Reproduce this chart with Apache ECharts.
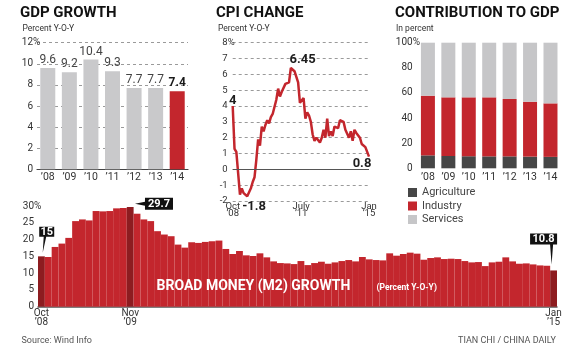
<!DOCTYPE html>
<html><head><meta charset="utf-8">
<script src="https://cdn.jsdelivr.net/npm/echarts@6/dist/echarts.min.js"></script>
<style>html,body{margin:0;padding:0;background:#fff}#c{width:580px;height:350px}</style>
</head><body><div id="c"></div>
<script>
// ---------- DATA ----------
const gdpYears = ["’08","’09","’10","’11","’12","’13","’14"];
const gdpGrowth = [9.6, 9.2, 10.4, 9.3, 7.7, 7.7, 7.4];

const months = [
 "2008-10","2008-11","2008-12",
 "2009-01","2009-02","2009-03","2009-04","2009-05","2009-06","2009-07","2009-08","2009-09","2009-10","2009-11","2009-12",
 "2010-01","2010-02","2010-03","2010-04","2010-05","2010-06","2010-07","2010-08","2010-09","2010-10","2010-11","2010-12",
 "2011-01","2011-02","2011-03","2011-04","2011-05","2011-06","2011-07","2011-08","2011-09","2011-10","2011-11","2011-12",
 "2012-01","2012-02","2012-03","2012-04","2012-05","2012-06","2012-07","2012-08","2012-09","2012-10","2012-11","2012-12",
 "2013-01","2013-02","2013-03","2013-04","2013-05","2013-06","2013-07","2013-08","2013-09","2013-10","2013-11","2013-12",
 "2014-01","2014-02","2014-03","2014-04","2014-05","2014-06","2014-07","2014-08","2014-09","2014-10","2014-11","2014-12",
 "2015-01"
];

const cpiChange = [
 4.0, 1.3, 1.1,
 1.0, -1.6, -1.2, -1.5, -1.4, -1.7, -1.8, -1.2, -0.8, -0.5, 0.6, 1.9,
 1.5, 2.7, 2.4, 2.8, 3.1, 2.9, 3.3, 3.5, 3.6, 4.4, 5.1, 4.6,
 4.9, 4.9, 5.4, 5.3, 5.5, 6.4, 6.45, 6.2, 6.1, 5.5, 4.2, 4.1,
 4.5, 3.2, 3.6, 3.4, 3.0, 2.2, 1.8, 2.0, 1.9, 1.7, 2.0, 2.5,
 2.0, 3.2, 2.1, 2.4, 2.1, 2.7, 2.7, 2.6, 3.1, 3.2, 3.0, 2.5,
 2.5, 2.0, 2.4, 1.8, 2.5, 2.3, 2.3, 2.0, 1.6, 1.6, 1.4, 1.5,
 0.8
];
const cpiTickMonths = ["2008-10","2011-07","2015-01"];
const cpiTickLabels = ["Oct\n’08","July\n’11","Jan\n’15"];
const cpiNoteMonths = ["2008-10","2009-07","2011-07","2015-01"];

const contribYears = ["’08","’09","’10","’11","’12","’13","’14"];
const agriculture = [10.3, 9.8, 9.6, 9.5, 9.5, 9.3, 9.1];
const industry    = [47.5, 46.7, 46.9, 47.0, 45.7, 43.7, 42.6];
const services    = [42.2, 43.5, 43.5, 43.5, 44.8, 47.0, 48.3];

const m2Growth = [
 15.0, 14.8, 17.8,
 18.8, 20.5, 25.5, 26.0, 25.7, 28.5, 28.4, 28.5, 29.3, 29.4, 29.7, 27.7,
 26.0, 25.5, 22.5, 21.5, 21.0, 18.5, 17.6, 19.2, 19.0, 19.3, 19.5, 19.7,
 17.2, 15.7, 16.6, 15.3, 15.1, 15.9, 14.7, 13.5, 13.0, 12.9, 12.7, 13.6,
 12.4, 13.0, 13.4, 12.8, 13.2, 13.6, 13.9, 13.5, 14.8, 14.1, 13.9, 13.8,
 15.9, 15.2, 15.7, 16.1, 15.8, 14.0, 14.5, 14.7, 14.2, 14.3, 14.2, 13.6,
 13.2, 13.3, 12.1, 13.2, 13.4, 14.7, 13.5, 12.8, 12.9, 12.6, 12.3, 12.2,
 10.8
];
const m2TickMonths = ["2008-10","2009-11","2015-01"];
const m2TickLabels = ["Oct\n’08","Nov\n’09","Jan\n’15"];
const m2Highlight = ["2008-10","2009-11","2015-01"];

// y-axis ranges / tick steps
const gdpAxis = {min:0, max:12, step:2};
const cpiAxis = {min:-2, max:8, step:1};
const contribAxis = {min:0, max:100, step:20};
const m2Axis = {min:0, max:30, step:5};

// ---------- STYLE ----------
const F = 'Roboto';
const RED = '#c3262d', DARKRED = '#8d1c20', GRAY = '#c9c9cb', AGRI = '#464646', SERV = '#c6c6c8', TXT = '#333';
const dash = {type:[3,3], color:'#9a9a9a', width:1};

function tickInterval(list){ return (i, v) => list.indexOf(v) >= 0; }
function tickFormatter(list, labels){ return v => { const k = list.indexOf(v); return k >= 0 ? labels[k] : ''; }; }

const chart = echarts.init(document.getElementById('c'), null, {renderer:'canvas', width:580, height:350});

const gdpData = gdpGrowth.map((v,i) => i === gdpGrowth.length-1
  ? {value:v, itemStyle:{color:RED}, label:{fontWeight:'bold', color:'#1a1a1a'}}
  : v);

const cpiNoteStyle = {
  "2008-10": {position:'top', distance:1, offset:[0,2]},
  "2009-07": {position:'bottom', distance:1, offset:[5,1]},
  "2011-07": {position:'top', distance:1, offset:[10,0]},
  "2015-01": {position:'bottom', distance:1, offset:[-7,0]}
};
const cpiData = cpiChange.map((v,i) => {
  const m = months[i];
  if (cpiNoteMonths.indexOf(m) >= 0) {
    const s = cpiNoteStyle[m];
    return {value:v, label:{show:true, position:s.position, distance:s.distance, offset:s.offset,
      formatter:String(v), fontSize:13, fontWeight:'bold', color:'#1e1e1e', fontFamily:F}};
  }
  return v;
});
const cpiAxisData = months.map(m => m === "2011-07" ? {value:m, textStyle:{padding:[0,0,0,17]}} : m);

const m2Data = m2Growth.map((v,i) => m2Highlight.indexOf(months[i]) >= 0
  ? {value:v, itemStyle:{color:DARKRED}} : v);

const calloutShapes = {
  "2008-10": {path:'path://M0,0 L15,0 L15,10 L7,10 L3.5,26 L4.5,10 L0,10 Z', size:[15,26], offset:[5.3,-16.6], lo:[0,-8]},
  "2009-11": {path:'path://M10,0 L38,0 L38,12 L10,12 L10,8 L0,6 L10,4 Z', size:[38,12], offset:[23.8,-3.2], lo:[5,0]},
  "2015-01": {path:'path://M0,0 L27,0 L27,11 L23,11 L21.5,31 L20,11 L0,11 Z', size:[27,31], offset:[-10,-21.5], lo:[0,-10]}
};
const m2Callouts = m2Highlight.map(m => {
  const s = calloutShapes[m];
  const v = m2Growth[months.indexOf(m)];
  return {coord:[m, v], symbol:s.path, symbolSize:s.size, symbolOffset:s.offset,
    itemStyle:{color:'#111'},
    label:{show:true, formatter:String(v), offset:s.lo, color:'#fff', fontWeight:'bold', fontSize:11, fontFamily:F}};
});

const titleStyle = {fontSize:15, fontWeight:'bold', fontFamily:F, color:'#111'};
const subStyle = {fontSize:8.5, fontWeight:'normal', fontFamily:F, color:'#333'};

const grids = [
  {left:37, top:42.7, width:151, height:126.6},
  {left:232.7, top:42.7, width:136.3, height:158.3},
  {left:417.7, top:42.7, width:143, height:125.6},
  {left:38, top:206, width:519, height:100.7}
];
const yAxes = [gdpAxis, cpiAxis, contribAxis, m2Axis];
const yMargins = [4, 5, 5, 4];
const yFont = [10, 9.5, 10, 10];

function yAxisOpt(i, extra){
  const a = yAxes[i];
  return Object.assign({gridIndex:i, type:'value', min:a.min, max:a.max, interval:a.step,
    axisLine:{show:false}, axisTick:{show:false},
    axisLabel:{margin:yMargins[i], fontSize:yFont[i], color:TXT, fontFamily:F}}, extra);
}

chart.setOption({
  animation:false,
  backgroundColor:'#fff',
  textStyle:{fontFamily:F},
  title:[
    {text:'GDP GROWTH', left:20, top:6, padding:0, textStyle:titleStyle},
    {text:'Percent Y-O-Y', left:22.5, top:24.5, padding:0, textStyle:subStyle},
    {text:'CPI CHANGE', left:216, top:6, padding:0, textStyle:titleStyle},
    {text:'Percent Y-O-Y', left:218, top:24.5, padding:0, textStyle:subStyle},
    {text:'CONTRIBUTION TO GDP', left:395, top:6, padding:0, textStyle:titleStyle},
    {text:'In percent', left:396, top:24.5, padding:0, textStyle:subStyle},
    {text:'BROAD MONEY (M2) GROWTH', left:156.5, top:279, padding:0, textStyle:{fontSize:14, fontWeight:'bold', fontFamily:F, color:'#fff'}},
    {text:'(Percent Y-O-Y)', left:376.5, top:283.5, padding:0, textStyle:{fontSize:8.5, fontWeight:'bold', fontFamily:F, color:'#fff'}},
    {text:'Source: Wind Info', left:21.5, top:336.5, padding:0, textStyle:{fontSize:9, fontWeight:'normal', fontFamily:F, color:'#555'}},
    {text:'TIAN CHI / CHINA DAILY', right:24, top:336.5, padding:0, textStyle:{fontSize:9, fontWeight:'normal', fontFamily:F, color:'#555'}}
  ],
  legend:{
    data:['Agriculture','Industry','Services'], orient:'vertical', left:408, top:187, padding:0,
    itemWidth:9, itemHeight:9, itemGap:2.5, icon:'rect', selectedMode:false,
    textStyle:{fontSize:11, color:'#444', fontFamily:F}
  },
  grid:grids,
  xAxis:[
    {gridIndex:0, type:'category', data:gdpYears, axisTick:{show:false},
      axisLine:{show:true, lineStyle:{color:'#444', width:1.2}},
      axisLabel:{fontSize:10.5, color:TXT, margin:3, fontFamily:F}},
    {gridIndex:1, type:'category', data:cpiAxisData, boundaryGap:false, axisTick:{show:false},
      axisLine:{show:false},
      axisLabel:{fontSize:9.5, color:TXT, margin:1.5, lineHeight:7.5, fontFamily:F,
        interval:tickInterval(cpiTickMonths), formatter:tickFormatter(cpiTickMonths, cpiTickLabels)}},
    {gridIndex:2, type:'category', data:contribYears, axisTick:{show:false}, axisLine:{show:false},
      axisLabel:{fontSize:10.5, color:TXT, margin:4, fontFamily:F}},
    {gridIndex:3, type:'category', data:months, axisTick:{show:false},
      axisLine:{show:true, lineStyle:{color:'#555', width:1.5}},
      axisLabel:{fontSize:10, color:TXT, margin:3, lineHeight:8.5, fontFamily:F,
        interval:tickInterval(m2TickMonths), formatter:tickFormatter(m2TickMonths, m2TickLabels)}}
  ],
  yAxis:[
    yAxisOpt(0, {splitLine:{show:true, lineStyle:dash}}),
    yAxisOpt(1, {splitLine:{show:true, lineStyle:dash}}),
    yAxisOpt(2, {splitLine:{show:false}}),
    yAxisOpt(3, {splitLine:{show:false}})
  ],
  series:[
    {type:'bar', xAxisIndex:0, yAxisIndex:0, data:gdpData, barWidth:15, itemStyle:{color:GRAY},
      label:{show:true, position:'top', distance:2, fontSize:12, color:'#444', fontFamily:F}},
    {type:'line', xAxisIndex:1, yAxisIndex:1, data:cpiData, symbol:'circle', symbolSize:0.01,
      showSymbol:true, showAllSymbol:true, itemStyle:{color:RED},
      lineStyle:{color:RED, width:2.5}, z:3,
      markLine:{silent:true, symbol:'none', label:{show:false},
        lineStyle:{color:'#555', width:1, type:'solid'}, data:[{yAxis:0}]}},
    {name:'Agriculture', type:'bar', stack:'c', xAxisIndex:2, yAxisIndex:2, data:agriculture, barWidth:14, itemStyle:{color:AGRI}},
    {name:'Industry', type:'bar', stack:'c', xAxisIndex:2, yAxisIndex:2, data:industry, barWidth:14, itemStyle:{color:RED}},
    {name:'Services', type:'bar', stack:'c', xAxisIndex:2, yAxisIndex:2, data:services, barWidth:14, itemStyle:{color:SERV}},
    {type:'bar', xAxisIndex:3, yAxisIndex:3, data:m2Data, barCategoryGap:'0%', itemStyle:{color:RED},
      markPoint:{silent:true, data:m2Callouts}}
  ]
});

// hanging "%" after the top tick label of each y axis
const pctMarks = yAxes.map((a, i) => {
  const y = chart.convertToPixel({yAxisIndex:i}, a.max);
  const x = grids[i].left - yMargins[i];
  return {type:'text', x:x, y:y, silent:true,
    style:{text:'%', fill:TXT, fontSize:yFont[i], fontFamily:F, align:'left', verticalAlign:'middle',
      textAlign:'left', textVerticalAlign:'middle'}};
});
chart.setOption({graphic:{elements:pctMarks}});
</script>
</body></html>
